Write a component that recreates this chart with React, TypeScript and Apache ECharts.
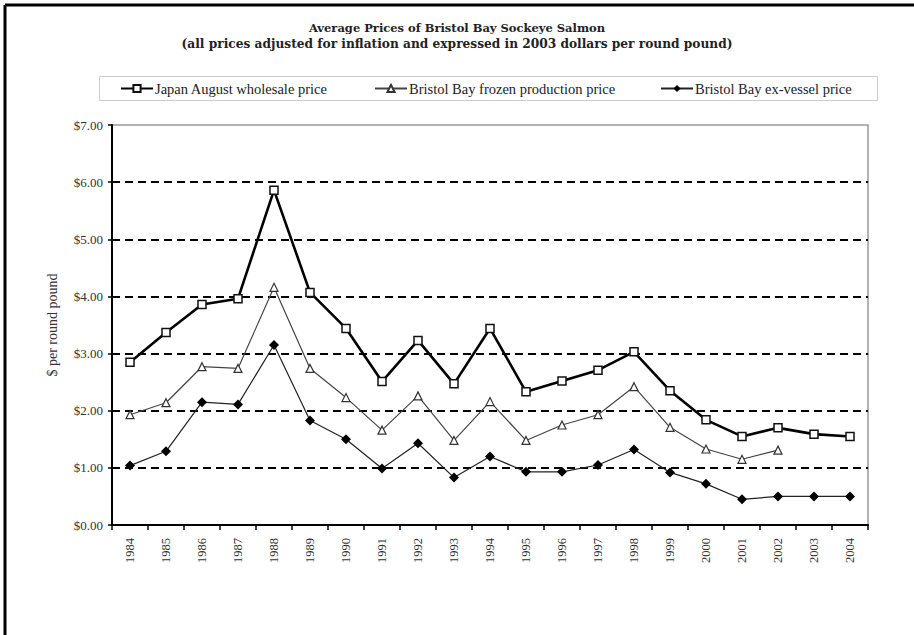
import React, { useEffect, useRef } from "react";
import * as echarts from "echarts";

const years = ["1984","1985","1986","1987","1988","1989","1990","1991","1992","1993","1994","1995","1996","1997","1998","1999","2000","2001","2002","2003","2004"];
const japanWholesale = [2.85, 3.37, 3.86, 3.96, 5.86, 4.07, 3.44, 2.51, 3.23, 2.47, 3.44, 2.33, 2.52, 2.71, 3.03, 2.35, 1.84, 1.55, 1.70, 1.59, 1.55];
const frozenProduction = [1.93, 2.14, 2.77, 2.74, 4.16, 2.74, 2.23, 1.66, 2.26, 1.48, 2.16, 1.48, 1.75, 1.93, 2.42, 1.71, 1.33, 1.15, 1.31, null, null];
const exVessel = [1.04, 1.29, 2.15, 2.11, 3.15, 1.83, 1.50, 0.99, 1.43, 0.83, 1.20, 0.93, 0.93, 1.05, 1.32, 0.92, 0.72, 0.45, 0.50, 0.50, 0.50];
const seriesNames = ["Japan August wholesale price", "Bristol Bay frozen production price", "Bristol Bay ex-vessel price"];
const titleText = "Average Prices of Bristol Bay Sockeye Salmon";
const subtitleText = "(all prices adjusted for inflation and expressed in 2003 dollars per round pound)";
const yAxisName = "$ per round pound";

const FONT = "'Liberation Serif', 'DejaVu Serif', serif";
const WIDE_FONT = "'DejaVu Serif', 'Liberation Serif', serif";

export default function App() {
  const ref = useRef<HTMLDivElement>(null);
  useEffect(() => {
    if (!ref.current) return;
    const chart = echarts.init(ref.current, undefined, { renderer: "svg" });
    const legendBase = {
      itemWidth: 32,
      itemHeight: 9,
      top: 81,
      padding: 0,
      textStyle: { fontFamily: FONT, fontSize: 14.5, color: "#222", padding: [0, 0, 0, -3] },
      itemGap: 4,
    };
    chart.setOption({
      animation: false,
      backgroundColor: "#fff",
      title: {
        text: titleText,
        subtext: subtitleText,
        left: "center",
        top: 17,
        itemGap: 4,
        textStyle: { fontFamily: WIDE_FONT, fontSize: 11.5, fontWeight: "bold", color: "#222" },
        subtextStyle: { fontFamily: WIDE_FONT, fontSize: 12.2, fontWeight: "bold", color: "#222" },
      },
      legend: [
        { ...legendBase, left: 120, data: [seriesNames[0]] },
        { ...legendBase, left: 374, data: [seriesNames[1]] },
        { ...legendBase, left: 660, data: [seriesNames[2]] },
      ],
      graphic: [
        { type: "line", shape: { x1: 5, y1: 5, x2: 914, y2: 5 }, style: { stroke: "#000", lineWidth: 3 } },
        { type: "line", shape: { x1: 5, y1: 5, x2: 5, y2: 635 }, style: { stroke: "#000", lineWidth: 3 } },
        { type: "rect", shape: { x: 99.5, y: 76.5, width: 778, height: 24 }, style: { fill: "none", stroke: "#ccc", lineWidth: 1 }, z: -1 },
      ],
      grid: {
        left: 112,
        right: 46,
        top: 125,
        bottom: 110,
        show: true,
        borderColor: "#999",
        borderWidth: 1.5,
      },
      xAxis: {
        type: "category",
        data: years,
        boundaryGap: true,
        axisLine: { lineStyle: { color: "#000", width: 2 } },
        axisTick: { show: true, interval: 0, length: 5, lineStyle: { color: "#000", width: 1.5 } },
        axisLabel: { rotate: 90, interval: 0, fontFamily: FONT, fontSize: 12.5, color: "#333", margin: 13 },
        splitLine: { show: false },
      },
      yAxis: {
        type: "value",
        min: 0,
        max: 7,
        interval: 1,
        name: yAxisName,
        nameLocation: "middle",
        nameRotate: 90,
        nameGap: 53,
        nameTextStyle: { fontFamily: FONT, fontSize: 14, color: "#333" },
        axisLine: { show: true, lineStyle: { color: "#000", width: 2 } },
        axisTick: { show: true, length: 4, lineStyle: { color: "#000", width: 1.5 } },
        axisLabel: {
          fontFamily: FONT,
          fontSize: 13,
          color: "#333",
          margin: 9,
          formatter: (v: number) => "$" + v.toFixed(2),
        },
        splitLine: {
          show: true,
          lineStyle: {
            color: ["#000", "#000", "#000", "#000", "#000", "#000", "#000", "rgba(0,0,0,0)"],
            width: 1.8,
            type: [8, 5],
          },
        },
      },
      series: [
        {
          name: seriesNames[0],
          type: "line",
          data: japanWholesale,
          symbol: "rect",
          symbolSize: 8,
          lineStyle: { color: "#000", width: 2.6 },
          itemStyle: { color: "#fff", borderColor: "#111", borderWidth: 1.5 },
          z: 5,
        },
        {
          name: seriesNames[1],
          type: "line",
          data: frozenProduction,
          symbol: "triangle",
          symbolSize: 8,
          connectNulls: false,
          lineStyle: { color: "#444", width: 1.2 },
          itemStyle: { color: "#fff", borderColor: "#333", borderWidth: 1.2 },
          z: 4,
        },
        {
          name: seriesNames[2],
          type: "line",
          data: exVessel,
          symbol: "diamond",
          symbolSize: 10,
          lineStyle: { color: "#222", width: 1.2 },
          itemStyle: { color: "#000", borderColor: "#000", borderWidth: 0 },
          z: 3,
        },
      ],
    });
    return () => chart.dispose();
  }, []);
  return (
    <div
      ref={ref}
      style={{ position: "fixed", left: 0, top: 0, width: 914, height: 635, background: "#fff" }}
    />
  );
}
